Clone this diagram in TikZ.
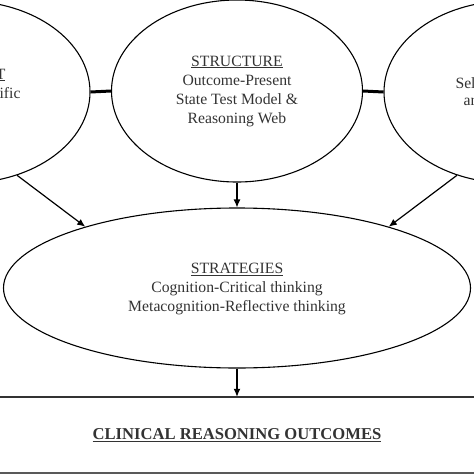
\documentclass[tikz,border=0pt]{standalone}
\usepackage{fontspec}
\setmainfont{Liberation Serif}
\usetikzlibrary{arrows.meta,shapes.geometric}
\definecolor{txt}{HTML}{333333}
\tikzset{
  oval/.style={ellipse,draw=black,line width=1.1pt,inner sep=0pt},
  lbl/.style={text=txt,font=\fontsize{15.7}{19}\selectfont,align=center},
  arr/.style={line width=1.2pt,-{Latex[length=8pt,width=7pt]}},
  link/.style={line width=3pt}
}
\begin{document}
\begin{tikzpicture}[x=1pt,y=1pt]
\useasboundingbox (0,0) rectangle (474,-474);
\clip (0,0) rectangle (474,-474);
\node[oval,minimum width=250pt,minimum height=182pt] (L) at (-35,-92) {};
\node[oval,minimum width=251pt,minimum height=182pt] (C) at (237,-91) {};
\node[oval,minimum width=250pt,minimum height=182pt] (R) at (509,-92) {};
\node[oval,minimum width=467pt,minimum height=160pt] (S) at (237,-288) {};
\node[draw=none,minimum width=500pt,minimum height=76pt,inner sep=0pt] (O) at (237,-435) {};
% fragments of cut-off texts
\node[lbl,anchor=east] (lh) at (9,-75) {\underline{T}};
\node[lbl,anchor=east] (lt) at (24,-93) {ific};
\node[lbl,anchor=west] (rt1) at (452,-83) {Sel};
\node[lbl,anchor=west] (rt2) at (460,-102) {an};
% centre text
\node[lbl] (ct) at (237,-91) {\underline{STRUCTURE}\\Outcome-Present\\State Test Model \&\\Reasoning Web};
\node[lbl] (st) at (237,-289) {\underline{STRATEGIES}\\Cognition-Critical thinking\\Metacognition-Reflective thinking};
\node[text=txt,font=\fontsize{16.6}{19}\selectfont\bfseries] (ot) at (237,-435) {\underline{CLINICAL REASONING OUTCOMES}};
% links
\draw[link] (L.east) -- (C.west);
\draw[link] (C.east) -- (R.west);
% arrows
\draw[arr] (L.-58) -- (S.158);
\draw[arr] (C.south) -- (S.north);
\draw[arr] (R.-122) -- (S.22);
\draw[arr] (S.south) -- (O.north);
% outcome box lines
\draw[line width=1.5pt,draw=black!80] (O.north west) -- (O.north east);
\draw[line width=3pt,draw=black!65] (O.south west) -- (O.south east);
\end{tikzpicture}
\end{document}
